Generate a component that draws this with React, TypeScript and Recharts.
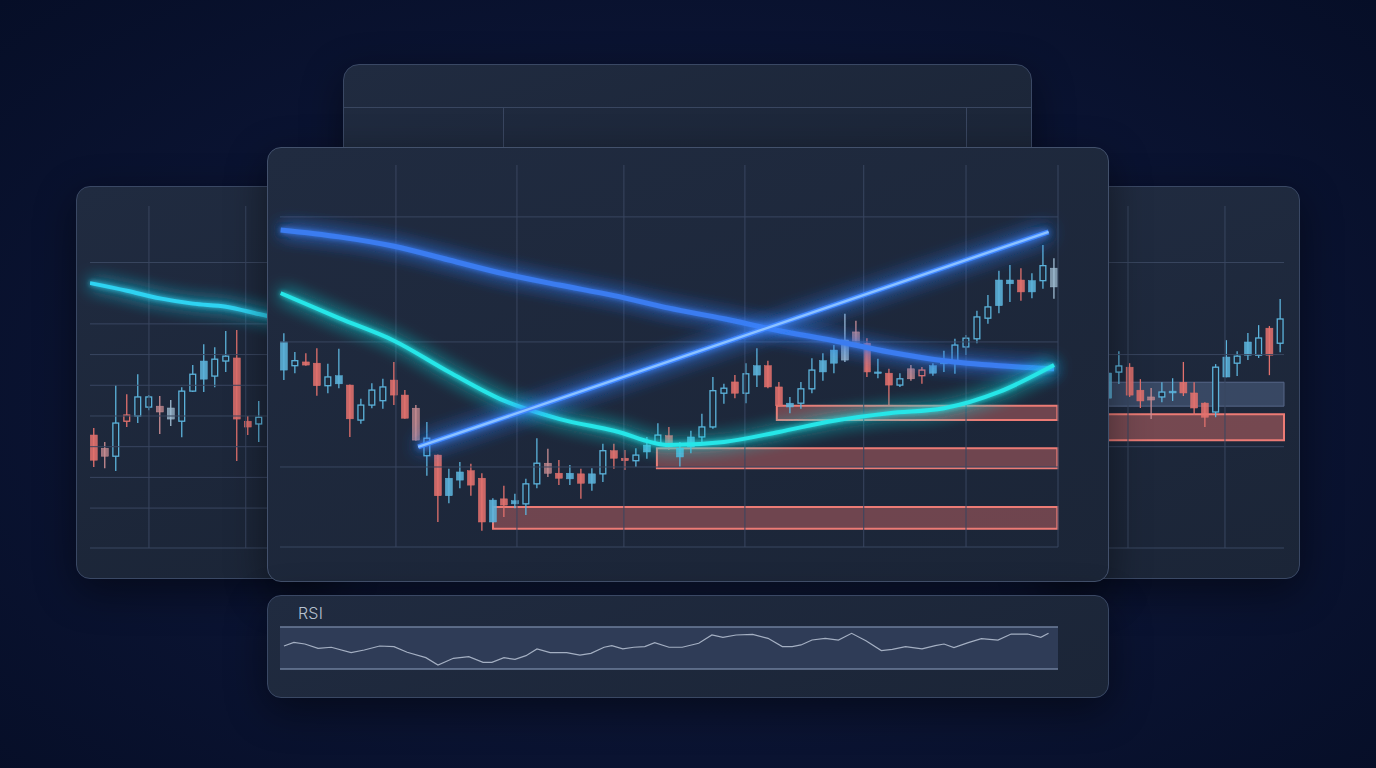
import React from 'react';
import { ComposedChart, Bar, Line, XAxis, YAxis, ReferenceLine, ReferenceArea } from 'recharts';

// ---- main chart: 71 daily candles ----
const mainOpen = [95.5, 96.2, 96.8, 96.6, 93.0, 93.3, 93.1, 87.5, 89.9, 90.6, 93.9, 91.5, 89.4, 81.8, 81.9, 75.4, 77.9, 79.4, 78.2, 71.2, 74.9, 74.1, 74.1, 77.3, 80.6, 79.0, 78.1, 78.9, 77.4, 78.9, 82.6, 81.4, 81.0, 82.4, 83.8, 85.0, 81.6, 83.2, 84.8, 86.4, 91.8, 93.6, 91.8, 94.7, 96.2, 92.8, 89.6, 90.2, 92.5, 95.2, 96.6, 97.1, 101.6, 99.8, 95.0, 95.0, 93.1, 95.7, 95.5, 95.0, 96.5, 96.6, 99.2, 100.5, 103.8, 105.8, 109.3, 109.9, 108.0, 109.8, 108.8];
const mainClose = [100.0, 97.0, 96.3, 93.0, 94.4, 94.6, 87.7, 89.9, 92.3, 92.8, 91.5, 87.8, 84.3, 84.6, 75.4, 78.2, 79.2, 77.1, 71.2, 74.7, 73.9, 74.6, 77.3, 80.6, 79.0, 78.2, 79.0, 77.4, 78.9, 82.6, 81.4, 81.0, 81.9, 83.5, 85.1, 83.2, 83.0, 84.8, 86.4, 92.2, 92.6, 91.8, 94.9, 96.2, 92.8, 89.8, 90.2, 92.5, 95.5, 97.0, 98.7, 100.3, 99.8, 95.2, 95.2, 93.1, 94.1, 94.1, 94.6, 96.2, 96.8, 99.5, 100.6, 104.0, 105.6, 109.9, 109.9, 108.0, 109.8, 112.2, 111.8];
const mainHigh = [101.4, 98.4, 98.2, 99.0, 96.5, 98.9, 93.2, 90.9, 93.4, 94.1, 96.8, 92.3, 89.9, 87.2, 82.0, 79.7, 80.8, 80.5, 79.0, 75.0, 77.0, 75.7, 78.1, 84.6, 82.9, 81.1, 80.3, 79.7, 79.8, 83.7, 83.7, 82.7, 83.0, 84.8, 87.0, 86.4, 84.0, 85.8, 88.5, 94.4, 93.3, 94.7, 96.6, 99.0, 97.0, 93.6, 91.2, 93.6, 97.4, 98.2, 99.5, 104.5, 103.4, 100.6, 97.3, 95.7, 95.0, 96.3, 96.0, 96.6, 98.6, 100.5, 101.1, 105.0, 107.5, 111.4, 112.3, 111.8, 111.0, 115.5, 113.4];
const mainLow = [93.9, 95.0, 96.2, 91.4, 91.8, 92.6, 84.8, 86.9, 89.4, 89.3, 89.9, 87.7, 84.2, 78.6, 71.2, 74.2, 76.6, 75.4, 69.8, 71.1, 72.0, 73.4, 72.3, 76.6, 78.4, 77.1, 77.1, 74.9, 76.2, 77.6, 79.7, 79.5, 80.0, 81.3, 83.5, 82.7, 80.0, 82.2, 84.0, 86.1, 90.1, 91.0, 90.2, 92.8, 92.6, 89.6, 88.6, 89.3, 91.8, 93.8, 95.0, 96.8, 99.5, 94.4, 94.2, 89.8, 92.8, 93.8, 93.3, 94.6, 95.2, 94.9, 97.9, 99.8, 102.9, 104.6, 106.4, 106.6, 107.0, 108.5, 106.9];
// f = filled, h = hollow, p = pale
const mainKind = 'fhffhffhhhffphffffffffhhpffffhffhfhfffhhhfhffffhhffppfffhphffhhhhffffhp'.split('');

const maIdx = [-0.3, 5, 10, 15, 20, 25, 30, 35, 40, 45, 50, 55, 60, 65, 70];
const maSlow = [117.9, 116.8, 115.3, 113.1, 110.9, 109.1, 107.4, 105.4, 103.7, 101.8, 100.2, 98.4, 97.0, 96.2, 95.7];
const maFast = [107.8, 103.8, 100.2, 95.2, 90.6, 87.7, 85.8, 83.5, 84.0, 85.6, 87.4, 88.6, 89.4, 92.0, 96.3];

const trendIdx = [12.2, 69.5];
const trendVal = [83.2, 117.6];

// supply zones: [start index, low, high]
const zones = [
  [44.8, 87.5, 89.8],
  [33.9, 79.8, 83.0],
  [19.0, 70.1, 73.6],
];

const mainGridX = [10.18, 21.18, 30.9, 41.9, 52.7, 62.0, 70.36];
const mainGridY = [120, 100, 80, 67.2];

// ---- RSI ----
const rsiIdx = [0, 0.9, 1.9, 3.1, 4.3, 6.1, 7.3, 8.7, 10.0, 11.2, 12.9, 14.0, 15.4, 16.8, 18.1, 18.9, 20.0, 21.0, 22.0, 23.0, 24.2, 25.7, 26.9, 27.9, 29.1, 29.8, 30.8, 31.8, 32.8, 33.7, 35.0, 36.2, 37.7, 38.9, 39.9, 41.1, 42.6, 44.0, 45.3, 46.2, 47.0, 48.0, 49.2, 50.4, 51.6, 52.9, 54.3, 55.3, 56.5, 58.0, 59.2, 60.0, 60.9, 62.2, 63.4, 64.9, 66.1, 67.6, 68.8, 69.5];
const rsiVal = [51.9, 55.4, 53.8, 49.7, 50.7, 45.6, 48.1, 51.9, 51.3, 45.9, 40.8, 33.8, 40.2, 41.7, 36.4, 36.4, 40.8, 39.2, 42.7, 49.1, 45.6, 45.6, 43.3, 44.9, 50.7, 52.2, 49.1, 50.7, 51.3, 55.1, 50.7, 50.7, 54.5, 62.4, 60.2, 62.4, 63.0, 59.2, 51.3, 51.3, 52.9, 57.6, 59.2, 57.6, 64.0, 57.0, 47.5, 48.7, 51.3, 49.1, 52.2, 53.8, 50.3, 55.1, 58.9, 57.6, 63.3, 63.3, 60.2, 64.0];

// ---- left side chart ----
const leftOpen = [33.8, 29.5, 26.9, 40.3, 40.0, 42.9, 43.2, 39.0, 38.3, 48.1, 52.0, 53.0, 57.9, 58.9, 38.3, 37.4];
const leftClose = [25.6, 26.9, 37.7, 38.3, 46.2, 46.2, 41.3, 42.6, 48.1, 53.6, 57.9, 58.5, 59.5, 39.0, 36.4, 39.6];
const leftHigh = [36.1, 31.5, 50.1, 47.1, 53.6, 46.8, 46.5, 45.2, 49.4, 56.6, 63.4, 62.4, 67.7, 68.0, 40.0, 44.9];
const leftLow = [23.4, 23.0, 22.1, 36.4, 37.7, 41.9, 34.1, 36.7, 33.1, 47.8, 47.8, 49.4, 54.3, 25.3, 33.8, 31.5];
const leftKind = 'fphhhhpphhfhhffh'.split('');
const leftMaIdx = [-0.36, 3, 6, 9, 12, 15, 18, 20.5];
const leftMa = [83.3, 80.8, 78.3, 76.6, 75.6, 73.2, 70.8, 69.0];
const sideGridY = [90, 70, 60, 50, 40, 30, 20, 10, -3];
const leftGridX = [5.0, 13.8];

// ---- right side chart ----
const rightOpen = [45.8, 54.3, 55.9, 48.4, 46.2, 46.2, 47.5, 51.0, 47.5, 44.2, 41.3, 52.7, 57.2, 59.8, 59.8, 68.6, 63.7];
const rightClose = [54.0, 56.3, 46.8, 44.9, 45.2, 47.8, 48.1, 47.5, 42.6, 39.6, 55.9, 59.2, 59.5, 64.1, 65.4, 59.8, 71.6];
const rightHigh = [55.0, 61.1, 57.2, 52.0, 49.1, 51.0, 52.3, 57.6, 51.0, 44.5, 56.9, 64.7, 61.1, 67.0, 69.6, 69.3, 78.1];
const rightLow = [45.2, 50.4, 46.2, 42.6, 39.0, 44.5, 44.9, 46.5, 40.3, 36.4, 39.6, 52.6, 53.0, 58.2, 58.9, 53.3, 60.8];
const rightKind = 'fhffphffffhfhfhfh'.split('');
const rightGridX = [1.86, 10.88];
const rightGridY = [90, 60, 30, -3];

const UP = '#5cb3db';
const DOWN = '#e2716d';
const PALE_UP = '#9fbcd2';
const PALE_DOWN = '#c98d93';
const PANEL = '#1d2738';
const GRID = '#394660';
const BODY_W = 7;

type Row = { i: number; open: number; high: number; low: number; close: number; kind: string };

function toRows(open: number[], high: number[], low: number[], close: number[], kind: string[]): Row[] {
  return open.map((o, i) => ({ i, open: o, high: high[i], low: low[i], close: close[i], kind: kind[i] }));
}

function toPoints(idx: number[], val: number[]) {
  return idx.map((i, n) => ({ i, v: val[n] }));
}

function Candle(props: any) {
  const { x, y, width, height, payload } = props;
  if (payload == null || !Number.isFinite(x) || !Number.isFinite(y)) return null;
  const { open, close, high, low, kind } = payload as Row;
  const top = Math.min(y, y + height);
  const span = Math.abs(height);
  const k = span / Math.max(high - low, 0.0001);
  const cx = x + width / 2;
  const up = close >= open;
  const color = kind === 'p' ? (up ? PALE_UP : PALE_DOWN) : up ? UP : DOWN;
  const bodyTop = top + (high - Math.max(open, close)) * k;
  const bodyH = Math.max(Math.abs(close - open) * k, 1.5);
  const hollow = kind === 'h';
  return (
    <g>
      <line x1={cx} x2={cx} y1={top} y2={top + span} stroke={color} strokeWidth={1.3} />
      <rect
        x={cx - BODY_W / 2 + (hollow ? 0.6 : 0)}
        y={bodyTop}
        width={BODY_W - (hollow ? 1.2 : 0)}
        height={bodyH}
        fill={hollow ? PANEL : color}
        fillOpacity={hollow ? 0.95 : kind === 'p' ? 0.75 : 0.88}
        stroke={color}
        strokeWidth={hollow ? 1.3 : 0.5}
      />
    </g>
  );
}

const candleShape = (p: any) => <Candle {...p} />;
const range = (d: Row) => [d.low, d.high];

const panelStyle: React.CSSProperties = {
  position: 'absolute',
  boxSizing: 'border-box',
  background: 'linear-gradient(160deg, #202b40 0%, #1b2537 100%)',
  border: '1px solid #3a4864',
  borderRadius: 14,
  boxShadow: '0 12px 40px rgba(0,0,0,0.45)',
  overflow: 'hidden',
};

const mainRows = toRows(mainOpen, mainHigh, mainLow, mainClose, mainKind);
const leftRows = toRows(leftOpen, leftHigh, leftLow, leftClose, leftKind);
const rightRows = toRows(rightOpen, rightHigh, rightLow, rightClose, rightKind);

function SideChart({ rows, xDomain, gridX, gridY, margin, children }: any) {
  return (
    <ComposedChart width={258} height={391} data={rows} margin={margin}>
      <XAxis dataKey="i" type="number" domain={xDomain} hide allowDataOverflow />
      <YAxis type="number" domain={[-3, 108.4]} hide allowDataOverflow />
      {gridX.map((v: number) => (
        <ReferenceLine key={'x' + v} x={v} stroke={GRID} strokeWidth={1} />
      ))}
      {gridY.map((v: number) => (
        <ReferenceLine key={'y' + v} y={v} stroke={GRID} strokeWidth={1} />
      ))}
      {children}
    </ComposedChart>
  );
}

function GlowFilter({ id, inner, outer }: { id: string; inner: number; outer: number }) {
  return (
    <filter id={id} filterUnits="userSpaceOnUse" x="-100" y="-100" width="2000" height="1000">
      <feGaussianBlur in="SourceGraphic" stdDeviation={inner} result="b1" />
      <feGaussianBlur in="SourceGraphic" stdDeviation={outer} result="b2" />
      <feMerge>
        <feMergeNode in="b2" />
        <feMergeNode in="b2" />
        <feMergeNode in="b1" />
        <feMergeNode in="SourceGraphic" />
      </feMerge>
    </filter>
  );
}

export default function App() {
  return (
    <div
      style={{
        position: 'absolute',
        left: 0,
        top: 0,
        width: 1376,
        height: 768,
        overflow: 'hidden',
        background: 'radial-gradient(ellipse 70% 75% at 50% 52%, #131e3d 0%, #0b1433 55%, #060e27 100%)',
        fontFamily: 'Inter, "Noto Sans", sans-serif',
      }}
    >
      <style>{`
        .glow-slow { filter: url(#glow-slow); }
        .glow-fast { filter: url(#glow-fast); }
        .glow-trend { filter: url(#glow-trend); }
      `}</style>
      <svg width="0" height="0" style={{ position: 'absolute' }}>
        <defs>
          <GlowFilter id="glow-slow" inner={2.5} outer={9} />
          <GlowFilter id="glow-fast" inner={2.5} outer={9} />
          <GlowFilter id="glow-trend" inner={3} outer={10} />
        </defs>
      </svg>

      {/* back panel */}
      <div style={{ ...panelStyle, left: 343, top: 64, width: 689, height: 130, borderRadius: 16 }}>
        <div style={{ position: 'absolute', left: 0, right: 0, top: 42, height: 1, background: GRID }} />
        <div style={{ position: 'absolute', left: 159, top: 42, bottom: 0, width: 1, background: GRID }} />
        <div style={{ position: 'absolute', left: 622, top: 42, bottom: 0, width: 1, background: GRID }} />
      </div>

      {/* left panel */}
      <div style={{ ...panelStyle, left: 76, top: 186, width: 260, height: 393 }}>
        <div style={{ position: 'absolute', left: 0, top: 0 }}>
          <SideChart
            rows={leftRows}
            xDomain={[-0.36, 20.55]}
            gridX={leftGridX}
            gridY={sideGridY}
            margin={{ top: 19, right: 15, bottom: 30, left: 13 }}
          >
            <Bar dataKey={range} barSize={7} shape={candleShape} isAnimationActive={false} />
            <Line
              data={toPoints(leftMaIdx, leftMa)}
              dataKey="v"
              type="monotone"
              stroke="#2fd3f2"
              strokeWidth={4}
              dot={false}
              className="glow-fast"
              isAnimationActive={false}
            />
          </SideChart>
        </div>
      </div>

      {/* right panel */}
      <div style={{ ...panelStyle, left: 1040, top: 186, width: 260, height: 393 }}>
        <div style={{ position: 'absolute', left: 0, top: 0 }}>
          <SideChart
            rows={rightRows}
            xDomain={[-1.674, 16.37]}
            gridX={rightGridX}
            gridY={rightGridY}
            margin={{ top: 19, right: 15, bottom: 30, left: 49 }}
          >
            <ReferenceArea x1={-1.674} x2={16.37} y1={43.2} y2={51.0} fill="#3d4d6b" fillOpacity={0.85} stroke="#566788" strokeWidth={1} />
            <ReferenceArea x1={-1.674} x2={16.37} y1={32.1} y2={40.6} fill="#e2716d" fillOpacity={0.45} stroke="#ec7b75" strokeWidth={2} />
            <Bar dataKey={range} barSize={7} shape={candleShape} isAnimationActive={false} />
          </SideChart>
        </div>
      </div>

      {/* main panel */}
      <div style={{ ...panelStyle, left: 267, top: 147, width: 842, height: 435, border: '1px solid #43516c' }}>
        <div style={{ position: 'absolute', left: 0, top: 0 }}>
          <ComposedChart width={840} height={433} data={mainRows} margin={{ top: 17, right: 50, bottom: 34, left: 12 }}>
            <XAxis dataKey="i" type="number" domain={[-0.36, 70.36]} hide allowDataOverflow />
            <YAxis type="number" domain={[67.2, 128.3]} hide allowDataOverflow />
            {mainGridX.map((v) => (
              <ReferenceLine key={'x' + v} x={v} stroke={GRID} strokeWidth={1} />
            ))}
            {mainGridY.map((v) => (
              <ReferenceLine key={'y' + v} y={v} stroke={GRID} strokeWidth={1} />
            ))}
            {zones.map(([start, lo, hi]) => (
              <ReferenceArea
                key={'z' + start}
                x1={start}
                x2={70.3}
                y1={lo}
                y2={hi}
                fill="#e2716d"
                fillOpacity={0.42}
                stroke="#ec7b75"
                strokeWidth={2}
              />
            ))}
            <Bar dataKey={range} barSize={7} shape={candleShape} isAnimationActive={false} />
            <Line
              data={toPoints(maIdx, maSlow)}
              dataKey="v"
              type="monotone"
              stroke="#3b7cf0"
              strokeWidth={5}
              dot={false}
              className="glow-slow"
              isAnimationActive={false}
            />
            <Line
              data={toPoints(maIdx, maFast)}
              dataKey="v"
              type="monotone"
              stroke="#26e6e8"
              strokeWidth={4}
              dot={false}
              className="glow-fast"
              isAnimationActive={false}
            />
            <Line
              data={toPoints(trendIdx, trendVal)}
              dataKey="v"
              type="linear"
              stroke="#3f86ff"
              strokeWidth={5}
              dot={false}
              className="glow-trend"
              isAnimationActive={false}
            />
            <Line
              data={toPoints(trendIdx, trendVal)}
              dataKey="v"
              type="linear"
              stroke="#8cc2ff"
              strokeWidth={2.4}
              dot={false}
              isAnimationActive={false}
            />
          </ComposedChart>
        </div>
      </div>

      {/* RSI panel */}
      <div style={{ ...panelStyle, left: 267, top: 595, width: 842, height: 103 }}>
        <div
          style={{
            position: 'absolute',
            left: 30,
            top: 7,
            fontSize: 16,
            fontWeight: 300,
            color: '#b7c1d0',
            letterSpacing: 0.2,
          }}
        >
          RSI
        </div>
        <div style={{ position: 'absolute', left: 0, top: 0 }}>
          <ComposedChart width={840} height={101} data={toPoints(rsiIdx, rsiVal)} margin={{ top: 31, right: 50, bottom: 28, left: 12 }}>
            <XAxis dataKey="i" type="number" domain={[-0.36, 70.36]} hide allowDataOverflow />
            <YAxis type="number" domain={[30, 70]} hide allowDataOverflow />
            <ReferenceArea x1={-0.36} x2={70.36} y1={30} y2={70} fill="#2f3c57" fillOpacity={1} />
            <ReferenceLine y={70} stroke="#6e7e9b" strokeWidth={1.5} />
            <ReferenceLine y={30} stroke="#6e7e9b" strokeWidth={1.5} />
            <Line dataKey="v" type="linear" stroke="#a4afc2" strokeWidth={1.2} dot={false} isAnimationActive={false} />
          </ComposedChart>
        </div>
      </div>
    </div>
  );
}
